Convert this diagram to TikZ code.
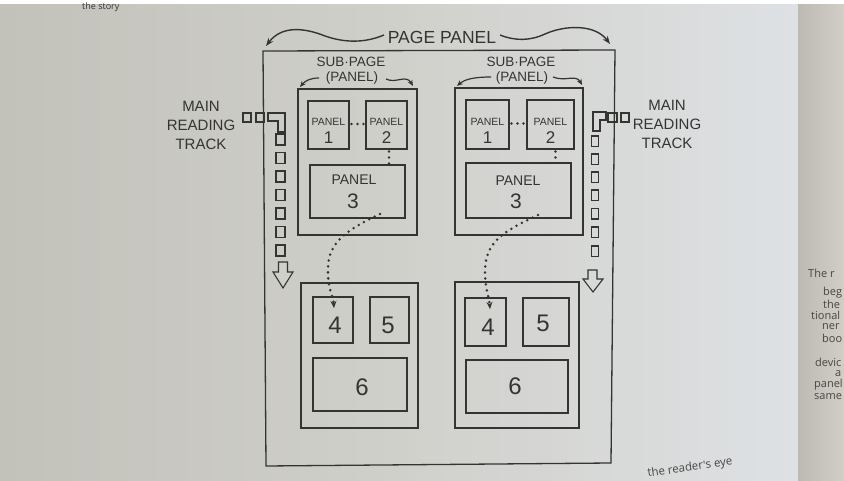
\documentclass[tikz,border=0pt]{standalone}
\usepackage{fontspec}
\setmainfont{Liberation Sans}
\newfontfamily\bookfont{Open Sans}
\usetikzlibrary{arrows.meta,calc}
\definecolor{ink}{RGB}{52,52,50}
\definecolor{bgL}{RGB}{194,193,186}
\definecolor{bgM}{RGB}{208,208,203}
\definecolor{bgR}{RGB}{222,225,228}
\definecolor{pgL}{RGB}{188,186,178}
\definecolor{pgR}{RGB}{208,206,198}
\definecolor{booktext}{RGB}{70,70,68}
\tikzset{
  box/.style={draw=ink, line width=1.3pt, inner sep=0pt, outer sep=0pt},
  lbl/.style={text=ink, inner sep=0pt, font=\fontsize{#1}{#1}\selectfont},
  lbl/.default=14,
  track/.style={draw=ink, line width=1.1pt, line join=miter},
  dotflow/.style={draw=ink, line width=2.8pt, line cap=round, dash pattern=on 0pt off 6pt},
  dotshort/.style={draw=ink, line width=2.6pt, line cap=round, dash pattern=on 0pt off 6pt, dash phase=3.5pt},
  dottip/.style={-{Stealth[length=7pt,width=6pt]}},
  wave/.style={draw=ink, line width=1.4pt, -{Stealth[length=8pt,width=6pt]}},
  swave/.style={draw=ink, line width=1.2pt, -{Stealth[length=6pt,width=5pt]}},
  frag/.style={text=booktext, inner sep=0pt, font=\bookfont\fontsize{11}{11}\selectfont, anchor=west}
}
\begin{document}
\begin{tikzpicture}[x=1pt,y=-1pt]
\useasboundingbox (0,0) rectangle (844,481);
\clip (0,0) rectangle (844,481);
% photo background
\shade[left color=bgL, right color=bgR, middle color=bgM] (0,0) rectangle (798,481);
\shade[left color=pgL, right color=pgR] (798,0) rectangle (844,481);
\fill[white] (0,0) rectangle (844,4);
% book text fragments
\node[frag, font=\bookfont\fontsize{9}{9}\selectfont, text=ink] (tstory) at (82,7) {the story};
\node[frag] (f1) at (808,273) {The r};
\node[frag] (f2) at (823,293) {beg};
\node[frag] (f3) at (823,304) {the};
\node[frag] (f4) at (811,315) {tional};
\node[frag] (f5) at (822,327) {ner};
\node[frag] (f6) at (822,338) {boo};
\node[frag] (f7) at (815,362) {devic};
\node[frag] (f8) at (835,374) {a};
\node[frag] (f9) at (814,385) {panel};
\node[frag] (f10) at (814,397) {same};
\node[text=booktext, inner sep=0pt, font=\bookfont\fontsize{11.5}{11.5}\selectfont, rotate=8] (eye) at (690,468) {the reader's eye};

% page panel outline
\draw[ink, line width=1.3pt, line join=miter] (263,51) -- (615,50) -- (611,463) -- (266,466) -- cycle;

% page panel label and arrows
\node[lbl=17.5] (pp) at (442,37) {PAGE PANEL};
\draw[wave] (384,35) .. controls (365,43) and (345,43) .. (325,36) .. controls (305,28) and (282,25) .. (266,46);
\draw[wave] (500,35) .. controls (515,41) and (530,41) .. (545,34) .. controls (565,25) and (595,24) .. (610,44);

% sub-page labels
\node[lbl=13.5] (spL) at (351,62) {SUB·PAGE};
\node[lbl=13.5] (ppL) at (352,78) {(PANEL)};
\node[lbl=13.5] (spR) at (521,62) {SUB·PAGE};
\node[lbl=13.5] (ppR) at (522,78) {(PANEL)};
\draw[swave] (319,78) .. controls (310,78) and (305,81) .. (300,87);
\draw[swave] (386,79) .. controls (396,84) and (406,74) .. (413,86);
\draw[swave] (491,77) .. controls (475,77) and (465,79) .. (457,86);
\draw[swave] (553,77) .. controls (565,82) and (576,74) .. (582,85);

% left top sub-page
\node[box, minimum width=119pt, minimum height=146pt] (LS) at (357.5,162) {};
\node[box, minimum width=41pt, minimum height=48pt] (L1) at (328.5,125) {};
\node[box, minimum width=41pt, minimum height=48pt] (L2) at (386.5,125) {};
\node[box, minimum width=95pt, minimum height=53pt] (L3) at (357.5,191.5) {};
\node[lbl=10.5] (L1a) at (328.5,122) {PANEL};
\node[lbl=17] (L1b) at (328.5,138) {1};
\node[lbl=10.5] (L2a) at (386.5,122) {PANEL};
\node[lbl=17] (L2b) at (386.5,138) {2};
\node[lbl=14] (L3a) at (354,180) {PANEL};
\node[lbl=21] (L3b) at (353,201) {3};

% right top sub-page
\node[box, minimum width=128pt, minimum height=147pt] (RS) at (519,161.5) {};
\node[box, minimum width=43pt, minimum height=49pt] (R1) at (487.5,124.5) {};
\node[box, minimum width=47pt, minimum height=49pt] (R2) at (550.5,124.5) {};
\node[box, minimum width=105pt, minimum height=55pt] (R3) at (518.5,190.5) {};
\node[lbl=10.5] (R1a) at (487.5,122) {PANEL};
\node[lbl=17] (R1b) at (487.5,138) {1};
\node[lbl=10.5] (R2a) at (550.5,122) {PANEL};
\node[lbl=17] (R2b) at (550.5,138) {2};
\node[lbl=14] (R3a) at (518,181) {PANEL};
\node[lbl=21] (R3b) at (516,201) {3};

% left bottom sub-page
\node[box, minimum width=117pt, minimum height=145pt] (LB) at (359.5,355.5) {};
\node[box, minimum width=40pt, minimum height=46pt] (L4) at (333,320) {};
\node[box, minimum width=39pt, minimum height=46pt] (L5) at (389.5,320) {};
\node[box, minimum width=94pt, minimum height=53pt] (L6) at (360,384.5) {};
\node[lbl=24] (L4a) at (335,325) {4};
\node[lbl=24] (L5a) at (388,325) {5};
\node[lbl=24] (L6a) at (362,387) {6};

% right bottom sub-page
\node[box, minimum width=124pt, minimum height=146pt] (RB) at (517,355) {};
\node[box, minimum width=41pt, minimum height=48pt] (R4) at (485.5,322) {};
\node[box, minimum width=46pt, minimum height=48pt] (R5) at (546,322) {};
\node[box, minimum width=102pt, minimum height=53pt] (R6) at (517,386.5) {};
\node[lbl=24] (R4a) at (488,327) {4};
\node[lbl=24] (R5a) at (543,323) {5};
\node[lbl=24] (R6a) at (515,386) {6};

% dotted reading flow
\draw[dotshort] ([yshift=1pt]L1.east) -- ([yshift=1pt]L2.west);
\draw[dotshort] ([xshift=2.5pt]L2.south) -- ([xshift=2.5pt]L2.south |- L3.north);
\draw[dotshort] ([yshift=1pt]R1.east) -- ([yshift=1pt]R2.west);
\draw[dotshort] ([xshift=5pt]R2.south) -- ([xshift=5pt]R2.south |- R3.north);
\coordinate (L4in) at (334,308);
\coordinate (R4in) at (490,309);
\draw[dotflow, dottip] ([xshift=22.5pt,yshift=4pt]L3.south) .. controls (342,232) and (327,245) .. (328,272) .. controls (328,290) and (333,295) .. (L4in);
\draw[dotflow, dottip] ([xshift=19.5pt,yshift=3pt]R3.south) .. controls (502,232) and (486,242) .. (485,270) .. controls (485,290) and (489,296) .. (R4in);

% main reading track, left
\node[lbl=15, align=center] (mrtL) at (201,125) {MAIN\\[4pt]READING\\[4pt]TRACK};
\draw[track] (243,113) rectangle (251,122);
\draw[track] (256,113) rectangle (264,122);
\draw[track] (268,113) -- (285,113) -- (285,132) -- (278,132) -- (278,121) -- (268,121) -- cycle;
\foreach \yy in {134,152.5,171,189.5,208,226.5,245}{
  \draw[track] (276,\yy) rectangle (285,\yy+11);
}
\draw[track, fill=bgM] (278.5,262) -- (287.5,262) -- (287.5,272) -- (293,272) -- (283,288) -- (273,272) -- (278.5,272) -- cycle;

% main reading track, right
\node[lbl=15, align=center] (mrtR) at (667,124) {MAIN\\[4pt]READING\\[4pt]TRACK};
\draw[track] (608,113) rectangle (617,122);
\draw[track] (621,113) rectangle (629,122);
\draw[track] (593,112) -- (606,112) -- (606,120) -- (600,120) -- (600,131) -- (593,131) -- cycle;
\foreach \yy in {136,154,172,190,208.5,227,246}{
  \draw[track] (591.5,\yy) rectangle (598.5,\yy+10.5);
}
\draw[track, fill=bgR!60!bgM] (588,270) -- (597,270) -- (597,279) -- (603,279) -- (593,292) -- (583,279) -- (588,279) -- cycle;
\end{tikzpicture}
\end{document}
